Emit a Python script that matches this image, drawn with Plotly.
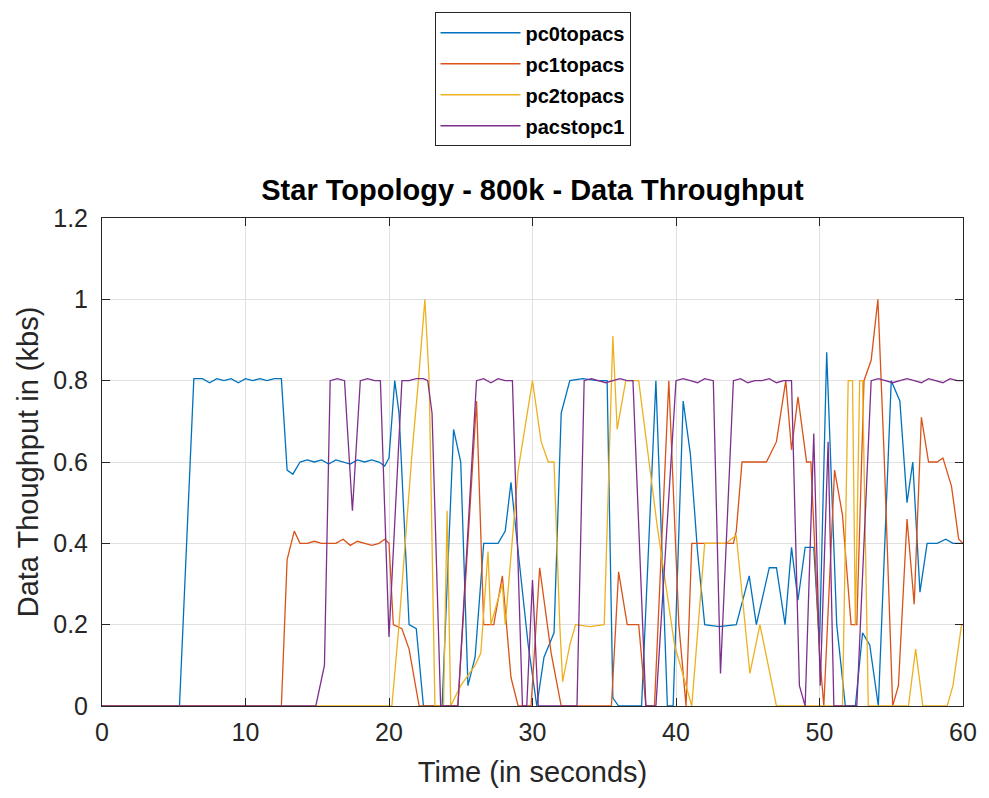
import plotly.graph_objects as go

# ---------------- data ----------------
pc0_t = [0, 5.4, 6.4, 7.0, 7.5, 8.0, 8.5, 9.0, 9.5, 10.0, 10.5, 11.0, 11.5, 12.0, 12.5,
         12.9, 13.3, 13.8, 14.3, 14.8, 15.3, 15.8, 16.3, 16.8, 17.3, 17.8, 18.3, 18.8, 19.3, 19.7,
         20.0, 20.4, 20.7, 21.4, 21.9, 22.4, 23.7, 24.5, 25.0, 25.5, 26.0, 26.6, 27.0, 27.6, 28.1,
         28.5, 29.0, 29.7, 30.3, 30.8, 31.5, 32.0, 32.6, 33.5, 34.5, 35.2, 35.6, 36.0, 37.6, 38.6,
         39.4, 39.8, 40.5, 41.0, 41.5, 42.0, 43.0, 44.2, 45.1, 45.6, 46.5, 47.0, 47.6, 48.05, 48.5,
         49.0, 49.6, 50.0, 50.5, 51.2, 51.8, 52.5, 53.0, 53.5, 54.1, 55.0, 55.6, 56.1, 56.5, 57.0,
         57.5, 58.2, 58.8, 59.3, 60.0]
pc0_v = [0, 0, 0.805, 0.805, 0.795, 0.805, 0.80, 0.805, 0.795, 0.805, 0.80, 0.805, 0.80, 0.805, 0.805,
         0.58, 0.57, 0.60, 0.605, 0.60, 0.605, 0.595, 0.605, 0.60, 0.595, 0.605, 0.60, 0.605, 0.60, 0.59,
         0.61, 0.80, 0.72, 0.20, 0.19, 0.0, 0.0, 0.68, 0.60, 0.05, 0.12, 0.40, 0.40, 0.40, 0.43,
         0.55, 0.38, 0.15, 0.0, 0.12, 0.18, 0.72, 0.80, 0.805, 0.80, 0.80, 0.02, 0.0, 0.0, 0.80,
         0.0, 0.0, 0.75, 0.62, 0.38, 0.20, 0.195, 0.20, 0.32, 0.20, 0.34, 0.34, 0.20, 0.39, 0.26,
         0.39, 0.39, 0.15, 0.87, 0.20, 0.0, 0.0, 0.18, 0.15, 0.0, 0.80, 0.75, 0.50, 0.60, 0.28,
         0.40, 0.40, 0.41, 0.40, 0.40]

pc1_t = [0, 12.5, 12.9, 13.4, 13.8, 14.3, 14.8, 15.3, 15.8, 16.3, 16.8, 17.3, 17.8, 18.3, 18.8,
         19.3, 19.7, 20.0, 20.3, 20.9, 21.4, 22.1, 24.8, 26.1, 26.6, 27.3, 27.9, 28.5, 29.0, 29.9,
         30.5, 31.3, 32.0, 35.5, 36.0, 36.6, 37.4, 37.9, 38.5, 39.5, 40.2, 40.7, 41.1, 42.0, 43.0,
         44.0, 44.2, 44.6, 45.5, 46.3, 47.0, 47.65, 48.05, 48.5, 49.1, 49.4, 50.0, 50.3, 51.05, 51.6,
         52.2, 52.6, 53.1, 53.6, 54.07, 54.5, 55.1, 55.5, 56.1, 56.6, 57.1, 57.6, 58.2, 58.6, 59.2,
         59.7, 60.0]
pc1_v = [0, 0, 0.36, 0.43, 0.40, 0.40, 0.405, 0.40, 0.40, 0.40, 0.41, 0.395, 0.405, 0.40, 0.395,
         0.40, 0.41, 0.40, 0.20, 0.19, 0.14, 0.0, 0.0, 0.75, 0.20, 0.20, 0.32, 0.07, 0.0, 0.0,
         0.34, 0.13, 0.0, 0.0, 0.33, 0.20, 0.20, 0.0, 0.0, 0.80, 0.20, 0.0, 0.40, 0.40, 0.40,
         0.40, 0.43, 0.60, 0.60, 0.60, 0.65, 0.80, 0.63, 0.76, 0.60, 0.60, 0.13, 0.0, 0.58, 0.47,
         0.20, 0.20, 0.80, 0.85, 1.00, 0.62, 0.0, 0.05, 0.46, 0.25, 0.71, 0.60, 0.60, 0.61, 0.54,
         0.41, 0.40]

pc2_t = [0, 20.2, 20.7, 21.6, 22.05, 22.5, 22.8, 23.2, 23.8, 24.05, 24.3, 25.0, 26.0, 26.4, 26.9,
         27.1, 27.9, 28.1, 29.0, 30.0, 30.6, 31.1, 31.5, 31.9, 32.1, 32.6, 33.0, 34.0, 35.0, 35.6,
         35.9, 36.5, 37.4, 38.7, 39.9, 41.1, 42.0, 43.5, 44.2, 45.15, 45.85, 47.0, 51.6, 52.0, 52.3,
         52.5, 52.8, 53.0, 53.4, 56.2, 56.7, 57.2, 58.9, 59.3, 59.9, 60.0]
pc2_v = [0, 0, 0.20, 0.62, 0.80, 1.00, 0.80, 0.0, 0.0, 0.48, 0.0, 0.05, 0.10, 0.13, 0.38,
         0.20, 0.30, 0.20, 0.58, 0.80, 0.65, 0.60, 0.60, 0.20, 0.06, 0.15, 0.20, 0.195, 0.20, 0.91,
         0.68, 0.80, 0.80, 0.44, 0.15, 0.0, 0.40, 0.40, 0.42, 0.08, 0.20, 0.0, 0.0, 0.80, 0.80,
         0.20, 0.80, 0.80, 0.0, 0.0, 0.14, 0.0, 0.0, 0.05, 0.20, 0.20]

pacs_t = [0, 14.9, 15.5, 15.9, 16.4, 16.9, 17.45, 18.0, 18.5, 19.0, 19.4, 20.0, 20.9, 21.4, 21.9,
          22.4, 22.7, 23.0, 23.6, 24.8, 26.1, 26.6, 27.1, 27.6, 28.1, 28.6, 29.3, 29.6, 30.0, 30.4,
          33.1, 33.6, 34.1, 34.6, 35.1, 35.6, 36.1, 36.6, 37.0, 37.9, 38.6, 40.0, 40.5, 41.0, 41.5,
          42.0, 42.6, 43.1, 44.0, 44.5, 45.0, 45.5, 46.0, 46.5, 47.0, 47.5, 48.05, 48.6, 49.0, 49.6,
          50.05, 50.6, 51.0, 52.6, 53.6, 54.1, 54.6, 55.1, 55.6, 56.1, 56.6, 57.1, 57.6, 58.1, 58.6,
          59.1, 59.6, 60.0]
pacs_v = [0, 0, 0.10, 0.80, 0.805, 0.80, 0.48, 0.80, 0.805, 0.80, 0.80, 0.17, 0.80, 0.80, 0.805,
          0.805, 0.80, 0.72, 0.0, 0.0, 0.80, 0.805, 0.795, 0.805, 0.80, 0.80, 0.0, 0.0, 0.31, 0.0,
          0.0, 0.80, 0.805, 0.80, 0.795, 0.80, 0.805, 0.80, 0.80, 0.0, 0.0, 0.80, 0.805, 0.80, 0.795,
          0.805, 0.80, 0.08, 0.80, 0.805, 0.795, 0.80, 0.80, 0.805, 0.795, 0.80, 0.80, 0.05, 0.0, 0.67,
          0.05, 0.65, 0.0, 0.0, 0.80, 0.805, 0.80, 0.795, 0.80, 0.805, 0.80, 0.795, 0.805, 0.80, 0.795,
          0.805, 0.80, 0.80]

series_names = ["pc0topacs", "pc1topacs", "pc2topacs", "pacstopc1"]
series_t = [pc0_t, pc1_t, pc2_t, pacs_t]
series_v = [pc0_v, pc1_v, pc2_v, pacs_v]
colors = ["#0072BD", "#D95319", "#EDB120", "#7E2F8E"]

x_ticks = [0, 10, 20, 30, 40, 50, 60]
y_ticks = [0, 0.2, 0.4, 0.6, 0.8, 1, 1.2]

# ---------------- figure ----------------
FONT = "Liberation Sans, Arial, Helvetica, sans-serif"
AX = "#262626"
fig = go.Figure()
for name, t, v, c in zip(series_names, series_t, series_v, colors):
    fig.add_trace(go.Scatter(x=t, y=v, mode="lines", name=name, legendgroup=name,
                             line=dict(color=c, width=1.3)))

axis_common = dict(showline=True, linecolor=AX, linewidth=1, mirror="ticks",
                   ticks="inside", ticklen=8, tickcolor=AX, showgrid=True,
                   gridcolor="#e0e0e0", gridwidth=1, zeroline=False,
                   tickfont=dict(family=FONT, size=25, color=AX))

fig.update_layout(
    width=989, height=798,
    margin=dict(l=102, r=22, t=215, b=92),
    paper_bgcolor="white", plot_bgcolor="white",
    font=dict(family=FONT, color=AX),
    title=dict(text="<b>Star Topology - 800k - Data Throughput</b>",
               x=0.5, xref="paper", xanchor="center",
               y=1 - 190 / 798, yref="container", yanchor="middle",
               font=dict(family=FONT, size=29, color="black")),
    xaxis=dict(range=[0, 60], tickvals=x_ticks, ticklabelstandoff=4,
               title=dict(text="Time (in seconds)", standoff=16,
                          font=dict(family=FONT, size=29, color=AX)),
               **axis_common),
    yaxis=dict(range=[0, 1.2], tickvals=y_ticks, ticklabelstandoff=8,
               title=dict(text="Data Thoughput in (kbs)", standoff=6,
                          font=dict(family=FONT, size=29, color=AX)),
               **axis_common),
    showlegend=True,
    legend=dict(x=0.5, xanchor="center", y=(706 - 8) / 491, yanchor="top",
                xref="paper", yref="paper",
                bgcolor="white", bordercolor=AX, borderwidth=1,
                tracegroupgap=2, itemwidth=80,
                font=dict(family=FONT, size=20, color="black", weight="bold")),
)

fig.write_html("out.html")
